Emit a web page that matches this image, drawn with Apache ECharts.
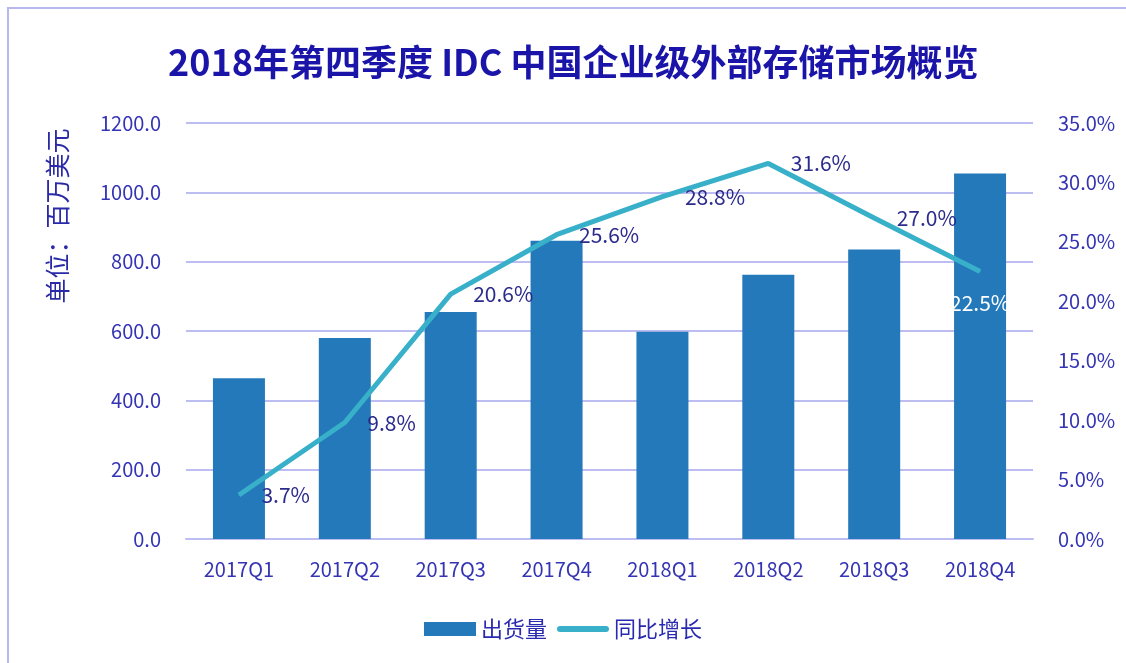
<!DOCTYPE html>
<html>
<head>
<meta charset="utf-8">
<title>2018年第四季度 IDC 中国企业级外部存储市场概览</title>
<script src="https://cdn.jsdelivr.net/npm/echarts@6/dist/echarts.min.js"></script>
<style>
  html, body { margin: 0; padding: 0; background: #fff; }
  #chart { width: 1126px; height: 663px; }
</style>
</head>
<body>
<div id="chart"></div>
<script>
// 季度
var quarters = ["2017Q1", "2017Q2", "2017Q3", "2017Q4", "2018Q1", "2018Q2", "2018Q3", "2018Q4"];
// 出货量（百万美元）
var shipments = [464, 580, 655, 860, 598, 762, 835, 1054];
// 同比增长（%）
var growth = [3.7, 9.8, 20.6, 25.6, 28.8, 31.6, 27.0, 22.5];

var font = "'Noto Sans CJK SC', 'Noto Sans', sans-serif";
var axisColor = "#3434b4";
var gridColor = "#bdbdf2";

// 最后一个点的标签放在下面，白色
var growthData = growth.map(function (v, i) {
  if (i == growth.length - 1) {
    return {
      value: v,
      label: { position: "bottom", distance: 20, color: "#ffffff" },
    };
  }
  return v;
});

var myChart = echarts.init(document.getElementById("chart"));
var option = {
  backgroundColor: "#ffffff",
  textStyle: { fontFamily: font },
  title: {
    text: "2018年第四季度 IDC 中国企业级外部存储市场概览",
    left: 163,
    top: 39,
    textStyle: {
      color: "#1a14a8",
      fontSize: 36,
      fontWeight: "bold",
      fontFamily: font,
    },
  },
  graphic: [
    {
      // 外框
      type: "rect",
      shape: { x: 8, y: 8, width: 1300, height: 800 },
      style: { fill: "none", stroke: "#b8b8f0", lineWidth: 2 },
      silent: true,
    },
    {
      type: "text",
      x: 57,
      y: 216,
      rotation: Math.PI / 2,
      style: {
        text: "单位：百万美元",
        fill: "#2a2aa8",
        font: "25px " + font,
        align: "center",
        verticalAlign: "middle",
      },
    },
  ],
  legend: {
    bottom: 18,
    left: "center",
    itemWidth: 52,
    itemHeight: 14,
    itemGap: 10,
    textStyle: { color: "#2a2ab0", fontSize: 22, fontFamily: font },
    data: [
      { name: "出货量", icon: "rect" },
      {
        name: "同比增长",
        icon: "path://M3.5,0 L56.5,0 A3.5,3.5 0 0 1 56.5,7 L3.5,7 A3.5,3.5 0 0 1 3.5,0 Z",
      },
    ],
  },
  grid: {
    left: 186,
    right: 93,
    top: 123,
    bottom: 124,
  },
  xAxis: {
    type: "category",
    data: quarters,
    axisTick: { show: false },
    axisLine: { show: true, lineStyle: { color: gridColor, width: 2 } },
    axisLabel: { color: axisColor, fontSize: 20, margin: 20 },
  },
  yAxis: [
    {
      type: "value",
      min: 0,
      max: 1200,
      interval: 200,
      axisLine: { show: false },
      axisTick: { show: false },
      splitLine: { show: true, lineStyle: { color: gridColor, width: 2 } },
      axisLabel: {
        color: axisColor,
        fontSize: 20,
        margin: 25,
        formatter: function (v) {
          return v.toFixed(1);
        },
      },
    },
    {
      type: "value",
      min: 0,
      max: 35,
      interval: 5,
      axisLine: { show: false },
      axisTick: { show: false },
      splitLine: { show: false },
      axisLabel: {
        color: axisColor,
        fontSize: 20,
        margin: 25,
        formatter: function (v) {
          return v.toFixed(1) + "%";
        },
      },
    },
  ],
  series: [
    {
      name: "出货量",
      type: "bar",
      data: shipments,
      barWidth: 52,
      itemStyle: { color: "#2479bb" },
    },
    {
      name: "同比增长",
      type: "line",
      yAxisIndex: 1,
      data: growthData,
      symbol: "circle",
      symbolSize: 1,
      lineStyle: { color: "#38b0c9", width: 5 },
      itemStyle: { color: "#38b0c9" },
      label: {
        show: true,
        position: "right",
        distance: 22,
        color: "#2b2b8c",
        fontSize: 21,
        fontFamily: font,
        formatter: function (p) {
          return p.value.toFixed(1) + "%";
        },
      },
    },
  ],
};
myChart.setOption(option);
window.addEventListener("resize", () => {
  myChart.resize();
});
</script>
</body>
</html>
